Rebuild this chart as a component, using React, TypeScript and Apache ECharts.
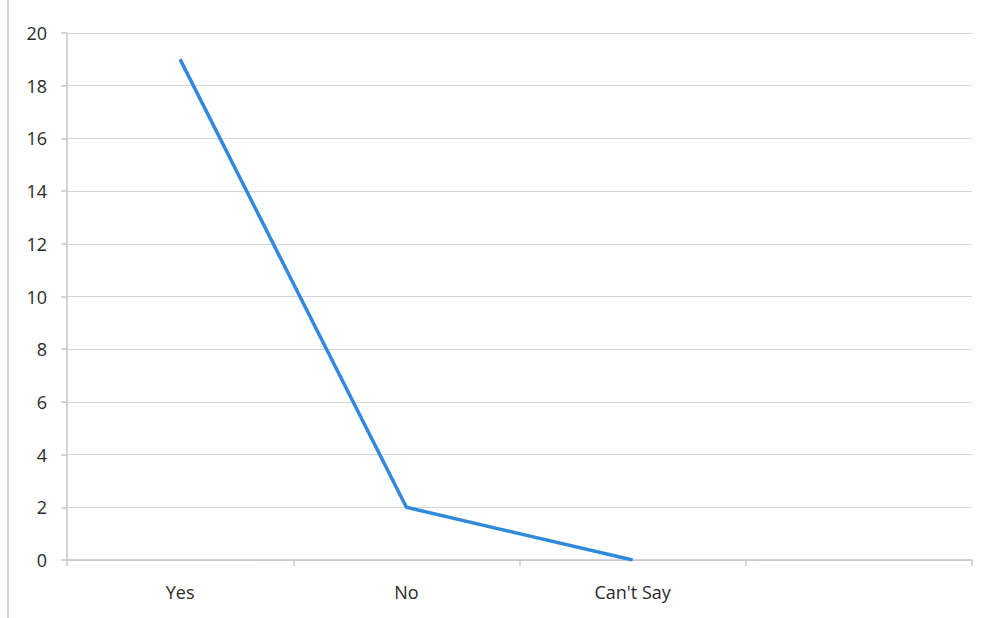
import React, { useEffect, useRef } from "react";
import * as echarts from "echarts";

const categories = ["Yes", "No", "Can't Say", ""];
const values: (number | null)[] = [19, 2, 0, null];
const yTicks = { min: 0, max: 20, interval: 2 };

export default function App() {
  const ref = useRef<HTMLDivElement>(null);
  useEffect(() => {
    document.body.style.margin = "0";
    const chart = echarts.init(ref.current!, undefined, { renderer: "svg" });
    chart.setOption({
      animation: false,
      backgroundColor: "#ffffff",
      textStyle: { fontFamily: "Open Sans, Liberation Sans, sans-serif" },
      grid: { left: 67, right: 24, top: 33, bottom: 58 },
      graphic: [
        {
          type: "line",
          shape: { x1: 8, y1: 0, x2: 8, y2: 618 },
          style: { stroke: "#c8c8d0", lineWidth: 1.5 },
        },
      ],
      xAxis: {
        type: "category",
        data: categories,
        boundaryGap: true,
        axisLine: { show: true, lineStyle: { color: "#c6c6cc", width: 1.5 } },
        axisTick: { show: true, alignWithLabel: false, length: 6, lineStyle: { color: "#c6c6cc", width: 1.5 } },
        axisLabel: { color: "#2a2a2a", fontSize: 18, margin: 23 },
        splitLine: { show: false },
      },
      yAxis: {
        type: "value",
        min: yTicks.min,
        max: yTicks.max,
        interval: yTicks.interval,
        axisLine: { show: true, lineStyle: { color: "#c6c6cc", width: 1.5 } },
        axisTick: { show: true, length: 6, lineStyle: { color: "#c6c6cc", width: 1.5 } },
        axisLabel: { color: "#2a2a2a", fontSize: 18, margin: 20 },
        splitLine: { show: true, lineStyle: { color: "#d4d4da", width: 1.2 } },
      },
      series: [
        {
          type: "line",
          data: values,
          symbol: "none",
          lineStyle: { color: "#3189dc", width: 3.5 },
          connectNulls: false,
        },
      ],
    });
    return () => chart.dispose();
  }, []);
  return <div ref={ref} style={{ width: 996, height: 618 }} />;
}
